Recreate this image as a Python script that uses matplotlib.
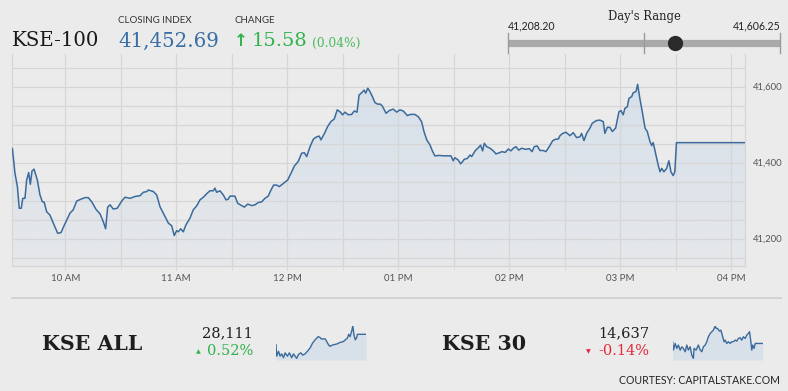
import numpy as np
import matplotlib
matplotlib.use('Agg')
import matplotlib.pyplot as plt
from matplotlib.colors import LinearSegmentedColormap
from matplotlib.path import Path
from matplotlib.patches import PathPatch
from matplotlib.ticker import FixedLocator, FuncFormatter

# ---------------- data ----------------
# minutes after 09:00 and KSE-100 index values
kse100_minutes = [
    31.4, 32.8, 34.1, 35.1, 36.2, 37.0, 38.2, 39.1, 40.2, 41.1, 42.0, 43.1, 44.9, 46.3, 47.6, 48.6,
    49.9, 51.7, 53.5, 55.9, 57.7, 59.5, 60.8, 62.5, 64.3, 66.2, 68.5, 70.6, 72.4, 74.3, 76.6, 78.8,
    80.5, 81.8, 82.9, 84.2, 85.9, 88.1, 90.5, 92.3, 95.0, 97.7, 100.4, 102.2, 104.0, 104.9, 107.6,
    109.4, 111.2, 113.9, 115.7, 117.5, 118.9, 120.2, 121.1, 122.4, 123.8, 125.2, 127.4, 129.2, 131.0,
    132.8, 134.6, 136.4, 138.2, 140.0, 140.9, 141.8, 143.6, 145.4, 146.9, 148.1, 149.0, 151.7, 153.2,
    155.0, 156.8, 158.6, 160.8, 162.5, 164.3, 166.2, 167.9, 169.7, 171.2, 172.6, 174.3, 175.7, 177.3,
    178.8, 180.2, 182.0, 183.8, 185.9, 187.8, 189.2, 190.5, 192.3, 194.1, 195.9, 197.3, 198.2, 200.0,
    201.8, 203.6, 205.4, 207.0, 208.5, 209.9, 211.2, 213.0, 214.8, 216.2, 217.7, 218.8, 220.2, 221.5,
    222.4, 223.5, 224.7, 226.0, 227.4, 228.9, 230.3, 231.4, 233.4, 235.1, 237.3, 239.1, 240.9, 242.7,
    244.9, 246.7, 249.0, 250.8, 252.6, 253.9, 255.4, 257.1, 258.6, 259.8, 262.2, 264.3, 266.2, 268.5,
    269.7, 270.6, 272.4, 273.7, 274.8, 275.7, 277.3, 278.8, 279.7, 281.5, 283.2, 284.5, 285.6, 286.5,
    287.8, 289.6, 291.4, 292.8, 294.6, 296.1, 297.8, 299.5, 300.9, 302.2, 303.6, 305.1, 306.7, 308.9,
    310.8, 312.3, 313.5, 315.1, 316.6, 318.4, 319.8, 321.6, 323.5, 325.2, 326.5, 327.4, 328.9, 330.6,
    331.9, 332.8, 334.6, 336.4, 338.2, 339.1, 340.4, 341.8, 343.6, 344.9, 347.2, 349.0, 350.8, 351.7,
    353.0, 354.4, 355.7, 357.5, 359.3, 360.4, 361.6, 362.5, 363.8, 364.7, 366.2, 367.0, 368.5, 369.4,
    370.6, 371.9, 373.4, 374.6, 376.1, 377.0, 377.8, 379.1, 380.5, 381.5, 382.4, 383.6, 385.1, 386.3,
    387.4, 388.6, 389.5, 390.4, 427.6]
kse100_values = [
    41437, 41372, 41337, 41280, 41280, 41306, 41306, 41354, 41374, 41343, 41378, 41383, 41354, 41315, 41297, 41296,
    41271, 41262, 41241, 41214, 41216, 41236, 41249, 41267, 41276, 41299, 41304, 41308, 41308, 41297, 41277, 41265,
    41245, 41226, 41283, 41289, 41278, 41280, 41299, 41309, 41306, 41311, 41313, 41322, 41324, 41328, 41324,
    41315, 41284, 41258, 41241, 41234, 41208.2, 41221, 41218, 41226, 41218, 41236, 41254, 41276, 41286,
    41302, 41309, 41318, 41326, 41326, 41333, 41322, 41326, 41315, 41302, 41304, 41312, 41312, 41293,
    41288, 41283, 41291, 41287, 41289, 41295, 41297, 41306, 41312, 41328, 41341, 41341, 41337, 41343,
    41349, 41354, 41372, 41391, 41403, 41425, 41426, 41416, 41442, 41462, 41468, 41470, 41460, 41476,
    41495, 41508, 41515, 41539, 41534, 41526, 41533, 41526, 41527, 41536, 41533, 41578, 41584, 41591,
    41583, 41596, 41587, 41574, 41558, 41554, 41554, 41549, 41530, 41537, 41541, 41533, 41539, 41536,
    41524, 41527, 41527, 41521, 41508, 41482, 41460, 41447, 41429, 41418, 41419, 41418, 41418, 41418,
    41405, 41413, 41407, 41397, 41403, 41409, 41411, 41420, 41416, 41431, 41439, 41446, 41431, 41451,
    41442, 41438, 41431, 41423, 41426, 41429, 41427, 41436, 41431, 41438, 41442, 41433, 41438, 41435,
    41437, 41429, 41442, 41444, 41432, 41432, 41429, 41442, 41458, 41462, 41462, 41471, 41477, 41480,
    41475, 41471, 41479, 41466, 41468, 41477, 41458, 41477, 41491, 41504, 41511, 41512, 41508, 41477,
    41493, 41493, 41482, 41491, 41534, 41537, 41526, 41543, 41547, 41569, 41574, 41584, 41587, 41606.25,
    41569, 41534, 41491, 41482, 41455, 41445, 41453, 41425, 41394, 41376, 41385, 41376, 41385, 41405,
    41376, 41366, 41376, 41452.69, 41452.69]

kseall_minutes = [31, 34, 42, 49, 56, 64, 71, 81, 90, 100, 108, 115, 122, 130, 140, 149, 159, 169, 181,
                  192, 203, 210, 217, 225, 232, 239, 247, 254, 262, 269, 276, 284, 298, 313, 328, 339,
                  345, 351, 357, 364, 369, 374, 380, 386, 389, 401, 427]
kseall_values = [27966, 27807, 27875, 27807, 27839, 27785, 27853, 27807, 27853, 27785, 27839, 27807,
                 27776, 27830, 27853, 27821, 27839, 27875, 27921, 27989, 28034, 28057, 28079, 28066,
                 28043, 28048, 28048, 28011, 27966, 27943, 27957, 27966, 27975, 27998, 28011, 28043,
                 28057, 28111, 28079, 28156, 28229, 28102, 28034, 28066, 28111, 28111, 28111]

kse30_minutes = [31, 34, 42, 49, 56, 64, 71, 78, 86, 93, 100, 108, 115, 122, 125, 134, 144, 152, 159,
                 166, 174, 181, 188, 196, 203, 210, 218, 222, 228, 237, 243, 251, 257, 262, 269, 276,
                 284, 291, 298, 306, 313, 320, 328, 335, 342, 350, 357, 364, 369, 375, 379, 383, 389,
                 394, 401, 427]
kse30_values = [14658, 14555, 14637, 14576, 14617, 14555, 14596, 14576, 14535, 14617, 14555, 14596,
                14494, 14453, 14576, 14555, 14617, 14555, 14535, 14596, 14617, 14658, 14719, 14760,
                14781, 14801, 14854, 14822, 14822, 14789, 14801, 14719, 14658, 14678, 14637, 14658,
                14637, 14658, 14658, 14678, 14666, 14699, 14707, 14678, 14719, 14699, 14740, 14760,
                14781, 14658, 14555, 14617, 14576, 14637, 14637, 14637]

x_tick_minutes = [60, 120, 180, 240, 300, 360, 420]
x_tick_labels = ['10 AM', '11 AM', '12 PM', '01 PM', '02 PM', '03 PM', '04 PM']
y_tick_values = [41200, 41400, 41600]

closing_index = 41452.69
change_points = 15.58
change_pct = 0.04
day_low = 41208.20
day_high = 41606.25

kseall_close = 28111
kseall_pct = 0.52
kse30_close = 14637
kse30_pct = -0.14

# ---------------- figure ----------------
W, H = 788, 391
BG = '#ebebeb'
GRID = '#d6d6d6'
LINE = '#3b6b9c'
GREEN = '#2fb34b'
RED = '#e5283a'
SANS = ['Lato', 'DejaVu Sans']
SERIF = ['DejaVu Serif']

fig = plt.figure(figsize=(W / 100, H / 100), dpi=100, facecolor=BG)


def box(x0, y0, x1, y1):
    return [x0 / W, 1 - y1 / H, (x1 - x0) / W, (y1 - y0) / H]


# main chart
ax = fig.add_axes(box(12.3, 54, 745.3, 266))
ax.set_facecolor(BG)
xlo, xhi = 31.35, 427.6
ylo, yhi = 41128, 41686

fill_verts = list(zip(kse100_minutes, kse100_values)) + [(kse100_minutes[-1], ylo), (kse100_minutes[0], ylo)]
patch = PathPatch(Path(fill_verts), facecolor='none', edgecolor='none')
ax.add_patch(patch)
cmap = LinearSegmentedColormap.from_list('g', ['#e6e8ea', '#d6e0ea'])
grad = np.linspace(1, 0, 256).reshape(-1, 1)
im = ax.imshow(grad, cmap=cmap, aspect='auto', origin='upper',
               extent=[xlo, xhi, ylo, max(kse100_values)], zorder=1.5, interpolation='bilinear')
im.set_clip_path(patch)
ax.plot(kse100_minutes, kse100_values, color=LINE, lw=1.1, zorder=3, solid_joinstyle='round')

ax.set_xlim(xlo, xhi)
ax.set_ylim(ylo, yhi)
ax.xaxis.set_major_locator(FixedLocator(x_tick_minutes))
ax.set_xticklabels(x_tick_labels)
ax.xaxis.set_minor_locator(FixedLocator([m + 30 for m in x_tick_minutes[:-1]]))
ax.yaxis.set_major_locator(FixedLocator(y_tick_values))
ax.yaxis.set_minor_locator(FixedLocator(list(range(41150, 41651, 50))))
ax.yaxis.set_major_formatter(FuncFormatter(lambda v, p: f'{v:,.0f}'))
ax.yaxis.tick_right()
ax.grid(which='both', color=GRID, lw=0.9)
ax.set_axisbelow(False)
for ln in ax.get_xgridlines() + ax.get_ygridlines():
    ln.set_zorder(2)
ax.tick_params(axis='x', which='both', length=3, color=GRID, pad=3, labelsize=7, labelcolor='#555555')
ax.tick_params(axis='y', which='both', length=0, pad=5.5, labelsize=6.8, labelcolor='#555555')
for lab in ax.get_xticklabels() + ax.get_yticklabels():
    lab.set_fontfamily(SANS)
for s in ['left', 'right', 'bottom']:
    ax.spines[s].set_color(GRID)
    ax.spines[s].set_linewidth(0.9)
ax.spines['top'].set_visible(False)


# sparklines
def spark(bounds, xs, ys):
    a = fig.add_axes(box(*bounds))
    a.set_facecolor('none')
    lo_, hi_ = min(ys), max(ys)
    base = lo_ - (hi_ - lo_) * 0.05
    a.fill_between(xs, ys, base, color='#d8e0e9', lw=0)
    a.plot(xs, ys, color=LINE, lw=1.0)
    a.set_xlim(min(xs), max(xs))
    a.set_ylim(base, hi_ + (hi_ - lo_) * 0.01)
    a.axis('off')


spark((276, 325.5, 366, 360), kseall_minutes, kseall_values)
spark((672.7, 325.5, 762.7, 360), kse30_minutes, kse30_values)

# overlay for header / footer, pixel coordinates
ov = fig.add_axes([0, 0, 1, 1])
ov.set_xlim(0, W)
ov.set_ylim(H, 0)
ov.axis('off')

ov.text(12, 46.5, 'KSE-100', family=SERIF, fontsize=14.2, color='#1a1a1a', va='baseline')
ov.text(118, 23.3, 'CLOSING INDEX', family=SANS, fontsize=7, color='#333333', va='baseline')
ov.text(118, 46.5, f'{closing_index:,.2f}', family=SERIF, fontsize=14.2, color='#3a6ea5', va='baseline')
ov.text(235, 23.3, 'CHANGE', family=SANS, fontsize=7, color='#333333', va='baseline')
ov.text(234, 45.5, '\u2191', family=['DejaVu Sans'], fontsize=12, fontweight='bold', color=GREEN, va='baseline')
ov.text(252, 46.5, f'{change_points:.2f}', family=SERIF, fontsize=14, color=GREEN, va='baseline')
ov.text(312, 46.5, f'({change_pct:.2f}%)', family=SERIF, fontsize=8.8, color='#4cbb5a', va='baseline')

# day's range slider
sx0, sx1, sy = 508.3, 780, 42.7
ov.text((sx0 + sx1) / 2, 20, "Day's Range", family=SERIF, fontsize=8.3, color='#222222', ha='center', va='baseline')
ov.text(sx0, 29.3, f'{day_low:,.2f}', family=SANS, fontsize=7.6, color='#222222', va='baseline')
ov.text(sx1, 29.3, f'{day_high:,.2f}', family=SANS, fontsize=7.6, color='#222222', ha='right', va='baseline')
ov.plot([sx0, sx1], [sy, sy], color='#a9a9a9', lw=5.2, solid_capstyle='butt')
for tx in [sx0, (sx0 + sx1) / 2, sx1]:
    ov.plot([tx, tx], [32.7, 52.7], color='#9a9a9a', lw=1)
dot_x = sx0 + (closing_index - day_low) / (day_high - day_low) * (sx1 - sx0)
ov.plot([dot_x], [sy], 'o', ms=10, color='#2a2a2a')

# separator
ov.plot([12, 781], [297.7, 297.7], color='#d2d2d2', lw=1.4)

# bottom indices
ov.text(41.7, 350, 'KSE ALL', family=SERIF, fontsize=14.8, fontweight='bold', color='#1e1e1e', va='baseline')
ov.text(253, 337.7, f'{kseall_close:,}', family=SERIF, fontsize=10.5, color='#1e1e1e', ha='right', va='baseline')
ov.text(253, 355, f'{kseall_pct:.2f}%', family=SERIF, fontsize=10.5, color=GREEN, ha='right', va='baseline')
ov.text(198, 353.5, '\u25b2', family=['DejaVu Sans'], fontsize=4.5, color=GREEN, ha='center', va='baseline')

ov.text(441.7, 350, 'KSE 30', family=SERIF, fontsize=14.8, fontweight='bold', color='#1e1e1e', va='baseline')
ov.text(649.3, 337.7, f'{kse30_close:,}', family=SERIF, fontsize=10.5, color='#1e1e1e', ha='right', va='baseline')
ov.text(649.3, 355, f'{kse30_pct:.2f}%', family=SERIF, fontsize=10.5, color=RED, ha='right', va='baseline')
ov.text(588.5, 353.5, '\u25bc', family=['DejaVu Sans'], fontsize=4.5, color=RED, ha='center', va='baseline')

ov.text(780, 384.3, 'COURTESY: CAPITALSTAKE.COM', family=SANS, fontsize=7.6, color='#222222', ha='right', va='baseline')

fig.savefig('out.png', dpi=100, facecolor=BG)
